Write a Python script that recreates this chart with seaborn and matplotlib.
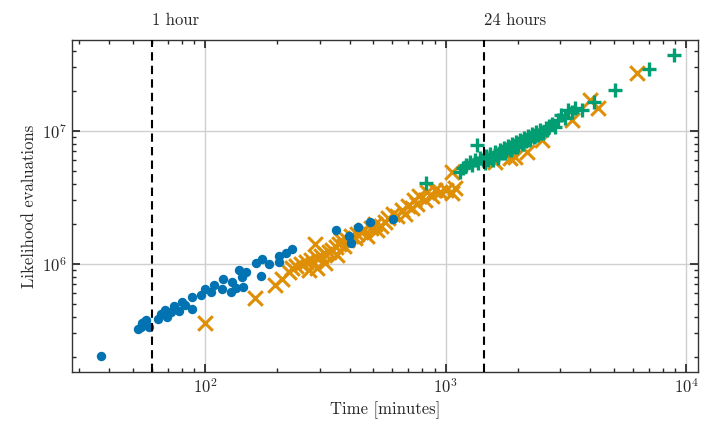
import numpy as np
import pandas as pd
import matplotlib
matplotlib.use("Agg")
import matplotlib.pyplot as plt
import seaborn as sns

# --- data (time in minutes, likelihood evaluations) ---
blue_t = [36.8, 52.7, 54.0, 54.8, 55.7, 56.6, 57.5, 58.4, 63.7, 65.4, 68.1, 69.7,
          72.0, 74.3, 77.9, 80.0, 82.5, 88.5, 88.5, 96.0, 100, 105.6, 109.0, 118.1,
          118.9, 128.0, 130.0, 134.2, 138.6, 143.0, 144.0, 147.8, 162.6, 170.7,
          173.3, 184.8, 202.1, 203.4, 216.9, 229.8, 350.4, 398, 404.6, 431.1,
          485.6, 603.3]
blue_n = [2.03e5, 3.25e5, 3.38e5, 3.58e5, 3.68e5, 3.79e5, 3.48e5, 3.38e5, 3.84e5,
          4.21e5, 4.51e5, 3.97e5, 4.38e5, 4.83e5, 4.46e5, 5.21e5, 4.92e5, 4.56e5,
          5.68e5, 5.82e5, 6.45e5, 6.19e5, 6.95e5, 6.45e5, 7.75e5, 6.19e5, 7.36e5,
          6.57e5, 9.01e5, 8.03e5, 6.68e5, 8.75e5, 1.01e6, 8.12e5, 1.085e6, 9.9e5,
          1.04e6, 1.15e6, 1.20e6, 1.30e6, 1.78e6, 1.62e6, 1.43e6, 1.88e6, 2.05e6,
          2.17e6]

orange_t = [100, 162, 196, 209, 224, 230, 239, 251, 264, 277, 287, 293, 304, 316,
            329, 338, 351, 362, 369, 380, 391, 406, 422, 430, 447, 460, 473, 492,
            511, 521, 541, 562, 579, 602, 631, 656, 675, 695, 722, 736, 764, 779,
            818, 841, 874, 900, 944, 1000, 1059, 1090, 1059, 1600, 1848, 1939, 2176,
            2512, 3350, 3981, 4299, 6249, 271, 293, 316, 355]
orange_n = [3.60e5, 5.55e5, 6.95e5, 7.71e5, 8.71e5, 9.33e5, 9.66e5, 1.00e6, 1.04e6,
            1.07e6, 1.41e6, 1.11e6, 1.15e6, 1.19e6, 1.23e6, 1.27e6, 1.34e6, 1.41e6,
            1.52e6, 1.37e6, 1.52e6, 1.62e6, 1.57e6, 1.68e6, 1.74e6, 1.80e6, 1.62e6,
            1.87e6, 2.00e6, 1.80e6, 1.93e6, 2.07e6, 2.22e6, 2.38e6, 2.30e6, 2.55e6,
            2.38e6, 2.73e6, 2.64e6, 3.03e6, 2.83e6, 3.25e6, 3.03e6, 3.48e6, 3.25e6,
            3.60e6, 3.48e6, 3.60e6, 3.42e6, 3.73e6, 4.92e6, 5.85e6, 6.27e6, 6.38e6,
            6.95e6, 8.56e6, 1.21e7, 1.71e7, 1.49e7, 2.73e7, 9.01e5, 9.33e5, 1.02e6,
            1.17e6]

green_t = [833, 1144, 1177, 1212, 1259, 1283, 1320, 1346, 1359, 1386, 1426, 1454,
           1468, 1496, 1525, 1555, 1570, 1600, 1631, 1647, 1679, 1711, 1744, 1761,
           1778, 1813, 1848, 1866, 1884, 1920, 1957, 1976, 1995, 2034, 2073, 2093,
           2113, 2154, 2196, 2217, 2239, 2282, 2326, 2349, 2371, 2417, 2464, 2488,
           2537, 2610, 2636, 2687, 2764, 2845, 2928, 3014, 3131, 3224, 3350, 3448,
           3688, 4138, 5060, 7013, 8913]
green_n = [4.06e6, 4.92e6, 5.27e6, 5.55e6, 5.85e6, 5.55e6, 6.05e6, 7.85e6, 5.75e6,
           6.27e6, 6.05e6, 5.75e6, 6.49e6, 6.05e6, 6.72e6, 6.27e6, 6.05e6, 6.95e6,
           6.60e6, 6.27e6, 7.20e6, 6.83e6, 7.45e6, 6.83e6, 7.07e6, 7.71e6, 7.32e6,
           7.20e6, 7.99e6, 7.58e6, 8.27e6, 7.58e6, 7.85e6, 8.56e6, 8.13e6, 7.99e6,
           8.86e6, 8.41e6, 9.17e6, 8.56e6, 8.71e6, 9.49e6, 9.01e6, 9.17e6, 9.83e6,
           9.33e6, 1.02e7, 9.66e6, 9.66e6, 1.05e7, 1.02e7, 1.09e7, 1.13e7, 1.07e7,
           1.21e7, 1.32e7, 1.25e7, 1.44e7, 1.39e7, 1.49e7, 1.44e7, 1.65e7, 2.03e7,
           2.93e7, 3.73e7]

markers = [("1 hour", 60), ("24 hours", 1440)]

pal = sns.color_palette("colorblind")

# --- style ---
sns.set_theme(style="ticks")
plt.rcParams.update({
    "font.family": "serif",
    "font.serif": ["cmr10", "DejaVu Serif"],
    "mathtext.fontset": "cm",
    "axes.formatter.use_mathtext": True,
    "axes.unicode_minus": False,
    "font.size": 12,
    "axes.labelsize": 12,
    "xtick.labelsize": 12,
    "ytick.labelsize": 12,
    "xtick.direction": "in",
    "ytick.direction": "in",
    "xtick.top": True,
    "ytick.right": True,
    "xtick.minor.visible": True,
    "ytick.minor.visible": True,
    "xtick.major.size": 6,
    "ytick.major.size": 6,
    "xtick.minor.size": 3,
    "ytick.minor.size": 3,
    "axes.edgecolor": "#333333",
    "axes.linewidth": 1.0,
})

fig = plt.figure(figsize=(7.17, 4.37), dpi=100)
ax = fig.add_axes([0.1004, 0.1487, 0.8731, 0.7598])

sns.scatterplot(x=orange_t, y=orange_n, ax=ax, marker="x", s=110,
                linewidth=2.2, color=pal[1], zorder=3)
ax.scatter(green_t, green_n, marker="+", s=90, linewidths=2.4, color=pal[2], zorder=4)
sns.scatterplot(x=blue_t, y=blue_n, ax=ax, marker="o", s=46, linewidth=0,
                color=pal[0], zorder=5)

ax.set_xscale("log")
ax.set_yscale("log")
ax.set_xlim(28, 11200)
ax.set_ylim(1.54e5, 4.8e7)

ax.grid(True, which="major", color="#cfcfcf", linewidth=1.0)
ax.set_axisbelow(True)

for label, t in markers:
    ax.axvline(t, color="black", linestyle=(0, (4, 2.5)), linewidth=1.5, zorder=6)
    ax.text(t, 1.06, label, transform=ax.get_xaxis_transform(),
            ha="left", va="center", fontsize=12)

ax.set_xlabel("Time [minutes]")
ax.set_ylabel("Likelihood evaluations")

plt.savefig("out.png", dpi=100)
